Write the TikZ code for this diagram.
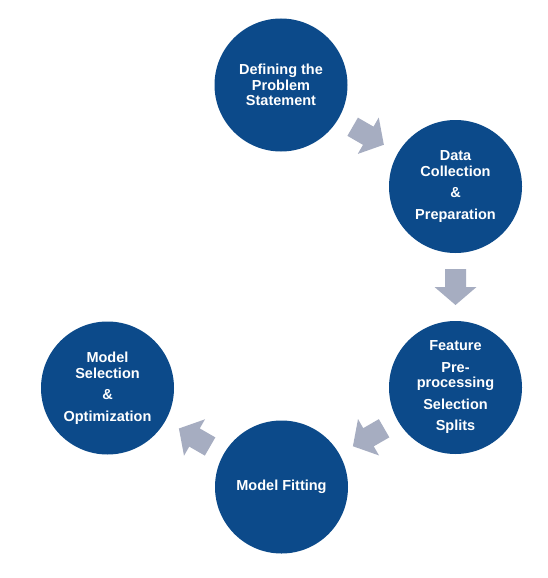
\documentclass[tikz,border=0pt]{standalone}
\usepackage{fontspec}
\setmainfont{Liberation Sans}
\usetikzlibrary{calc}
\definecolor{circblue}{RGB}{12,74,138}
\definecolor{arrgray}{RGB}{166,173,193}
\tikzset{
  stepcircle/.style={circle, fill=circblue, draw=none, minimum size=133pt, inner sep=0pt,
    text=white, align=center, font=\fontsize{14.5}{15.5}\selectfont\bfseries},
  blockarrow/.pic={
    \fill[arrgray] (-18pt,-10.5pt) -- (0pt,-10.5pt) -- (0pt,-21pt) -- (18pt,0pt)
      -- (0pt,21pt) -- (0pt,10.5pt) -- (-18pt,10.5pt) -- cycle;
  }
}
\begin{document}
\begin{tikzpicture}[x=1pt,y=-1pt]
\useasboundingbox (0,0) rectangle (547,578);
\fill[white] (0,0) rectangle (547,578);
\node[stepcircle] (c1) at (281,85) {Defining the\\Problem\\Statement};
\node[stepcircle] (c2) at (455.5,186.5) {Data\\Collection\\[6pt]\&\\[6pt]Preparation};
\node[stepcircle] (c3) at (455.5,387.5) {Feature\\[6pt]Pre-\\processing\\[6pt]Selection\\[6pt]Splits};
\node[stepcircle] (c4) at (281.5,487) {Model Fitting};
\node[stepcircle] (c5) at (107.5,388) {Model\\Selection\\[6pt]\&\\[6pt]Optimization};
\pic[rotate=-30] at ($(c1)!0.5!(c2)$) {blockarrow};
\pic[rotate=-90] at ($(c2)!0.5!(c3)$) {blockarrow};
\pic[rotate=-150] at ($(c3)!0.5!(c4)$) {blockarrow};
\pic[rotate=150] at ($(c4)!0.5!(c5)$) {blockarrow};
\end{tikzpicture}
\end{document}
